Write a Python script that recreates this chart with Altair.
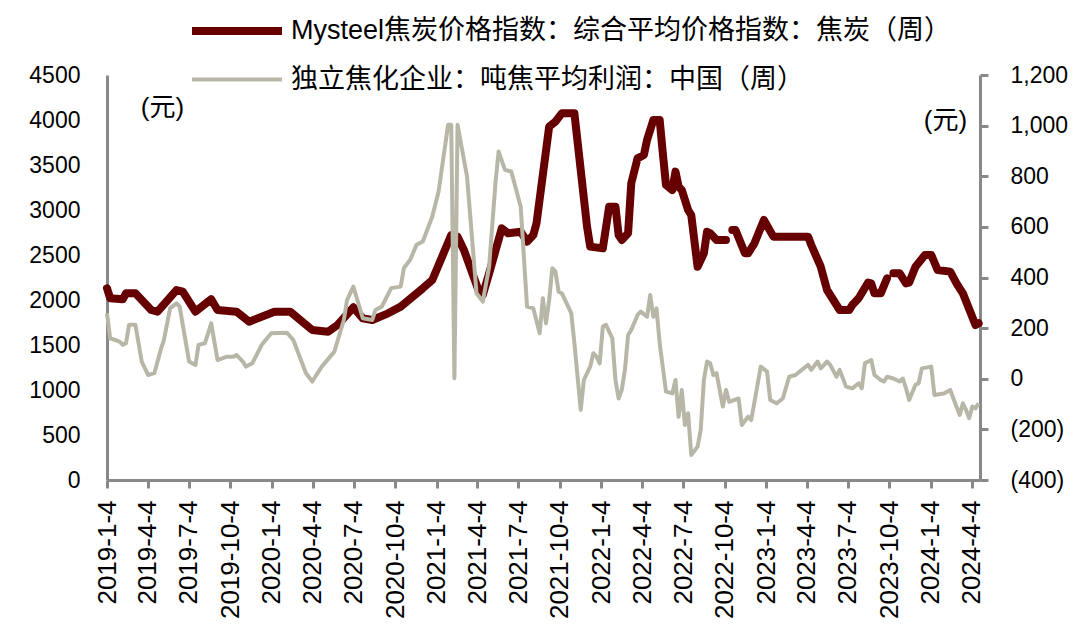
import altair as alt
import pandas as pd

START = "2019-01-04"
price_label = "Mysteel焦炭价格指数：综合平均价格指数：焦炭（周）"
profit_label = "独立焦化企业：吨焦平均利润：中国（周）"

# (week number since 2019-01-04, value)  -- None marks a missing week
price_points = [
    (0, 2130), (1, 2019), (5, 2008), (6, 2074), (9, 2074), (14, 1889), (16, 1870),
    (22, 2111), (24, 2093), (28, 1870), (30, 1926), (33, 2008), (35, 1889), (41, 1870),
    (45, 1759), (53, 1870), (58, 1870), (65, 1667), (70, 1648), (73, 1722), (78, 1919),
    (81, 1796), (84, 1778), (89, 1852), (93, 1926), (100, 2130), (103, 2222), (109, 2722),
    (111, 2704), (113, 2556), (118, 2074), (119, 2056), (121, 2296), (125, 2796), (127, 2741),
    (131, 2759), (133, 2648), (135, 2722), (136, 2852), (140, 3926), (142, 3981), (144, 4074),
    (148, 4074), (150, 3444), (152, 2815), (153, 2593), (157, 2574), (159, 3037), (161, 3037),
    (162, 2722), (163, 2667), (165, 2741), (166, 3296), (168, 3574), (170, 3611), (171, 3778),
    (173, 4000), (175, 4000), (176, 3630), (177, 3278), (179, 3222), (180, 3426), (181, 3259),
    (182, 3222), (184, 3000), (185, 2944), (187, 2370), (189, 2519), (190, 2759), (191, 2741),
    (193, 2667), (196, 2667), (197, None), (198, 2778), (199, 2778), (202, 2519), (203, 2519),
    (205, 2630), (208, 2889), (211, 2704), (222, 2704), (223, 2611), (226, 2370), (228, 2111),
    (230, 2000), (232, 1889), (235, 1889), (236, 1944), (238, 2019), (241, 2193), (242, 2185),
    (243, 2074), (245, 2074), (247, 2241), (248, None), (249, 2296), (251, 2296), (253, 2185),
    (254, 2193), (256, 2370), (259, 2500), (261, 2500), (263, 2333), (267, 2315), (269, 2185),
    (271, 2074), (275, 1722), (276, 1741),
]

profit_points = [
    (0, 259), (1, 160), (4, 147), (5, 134), (6, 140), (7, 213), (9, 213), (11, 68), (13, 15),
    (15, 22), (17, 114), (18, 153), (20, 279), (22, 298), (23, 285), (26, 68), (28, 54),
    (29, 134), (31, 140), (33, 219), (35, 74), (38, 87), (40, 87), (41, 94), (43, 68), (44, 48),
    (46, 61), (49, 134), (52, 180), (57, 182), (59, 153), (63, 22), (65, -11), (68, 48),
    (72, 107), (75, 232), (76, 311), (78, 364), (81, 239), (84, 232), (85, 272), (87, 285),
    (90, 358), (93, 364), (94, 437), (96, 470), (98, 529), (100, 542), (103, 641), (105, 740),
    (108, 1003), (109, 1003), (110, 2), (111, 1003), (114, 799), (117, 338), (119, 305),
    (121, 443), (123, 773), (124, 898), (126, 825), (128, 819), (131, 680), (133, 285),
    (135, 278), (137, 180), (138, 318), (139, 219), (140, 311), (141, 437), (142, 423),
    (143, 344), (144, 338), (147, 259), (148, 140), (150, -123), (151, -5), (153, 48), (154, 101),
    (155, 87), (156, 61), (157, 206), (158, 213), (160, 160), (161, -5), (162, -78), (163, -44),
    (164, 35), (165, 173), (166, 193), (168, 252), (169, 265), (171, 245), (172, 331), (173, 245),
    (174, 278), (175, 140), (177, -51), (179, -58), (180, -5), (181, -150), (182, -44),
    (183, -183), (184, -136), (185, -301), (187, -268), (188, -202), (189, -5), (190, 68),
    (191, 61), (192, 15), (193, 22), (195, -110), (196, -44), (197, -91), (200, -78), (201, -183),
    (203, -150), (204, -163), (207, 48), (209, 28), (210, -84), (212, -97), (214, -78), (216, 8),
    (218, 15), (220, 35), (222, 55), (223, 35), (225, 68), (226, 41), (228, 68), (229, 55),
    (231, 8), (232, 35), (234, -31), (236, -38), (238, -18), (239, -38), (240, 61), (242, 74),
    (243, 15), (245, -5), (246, -11), (247, 8), (249, 1), (251, -11), (252, 1), (253, -38),
    (254, -84), (256, -24), (257, -18), (258, 41), (261, 48), (262, -64), (265, -58), (267, -44),
    (268, -78), (270, -143), (271, -97), (272, -123), (273, -156), (274, -110), (275, -117),
    (276, -97),
]

left_ticks = [0, 500, 1000, 1500, 2000, 2500, 3000, 3500, 4000, 4500]
right_ticks = [-400, -200, 0, 200, 400, 600, 800, 1000, 1200]
x_tick_dates = [(2019, 1), (2019, 4), (2019, 7), (2019, 10), (2020, 1), (2020, 4), (2020, 7),
                (2020, 10), (2021, 1), (2021, 4), (2021, 7), (2021, 10), (2022, 1), (2022, 4),
                (2022, 7), (2022, 10), (2023, 1), (2023, 4), (2023, 7), (2023, 10), (2024, 1),
                (2024, 4)]

PRICE_COLOR = "#660000"
PROFIT_COLOR = "#B8B7A7"
AXIS_COLOR = "#888888"
LATIN = "Liberation Sans"
MIXED = "'Liberation Sans', 'Noto Sans CJK SC'"


def frame(points, label):
    df = pd.DataFrame(points, columns=["week", "value"])
    df["date"] = pd.Timestamp(START) + pd.to_timedelta(df["week"] * 7, unit="D")
    df["series"] = label
    return df[["date", "value", "series"]]


df_price = frame(price_points, price_label)
df_profit = frame(profit_points, profit_label)

x_enc = alt.X(
    "date:T",
    title=None,
    scale=alt.Scale(domain=[alt.DateTime(year=2019, month=1, date=4),
                            alt.DateTime(year=2024, month=4, date=22)]),
    axis=alt.Axis(
        values=[alt.DateTime(year=y, month=m, date=4) for y, m in x_tick_dates],
        format="%Y-%-m-%-d",
        labelAngle=270,
        labelFontSize=26,
        labelFont=LATIN,
        labelColor="black",
        labelPadding=12,
        labelOverlap=False,
        labelFlush=False,
        tickSize=8,
        tickWidth=3,
        tickColor=AXIS_COLOR,
        domainColor=AXIS_COLOR,
        domainWidth=3,
        grid=False,
    ),
)

legend = alt.Legend(
    title=None,
    orient="none",
    legendX=154,
    legendY=-58,
    direction="vertical",
    symbolType="M-8.3,0H0.7",
    symbolSize=400,
    labelFont=MIXED,
    labelFontSize=27,
    labelColor="black",
    labelLimit=1000,
    labelOffset=2,
    rowPadding=18,
)

color_enc = alt.Color(
    "series:N",
    scale=alt.Scale(domain=[price_label, profit_label], range=[PRICE_COLOR, PROFIT_COLOR]),
    legend=legend,
)
width_enc = alt.StrokeWidth(
    "series:N",
    scale=alt.Scale(domain=[price_label, profit_label], range=[8, 4]),
    legend=legend,
)

unit_title = dict(
    title="(元)",
    titleAngle=0,
    titleAlign="center",
    titleBaseline="middle",
    titleFont=MIXED,
    titleFontSize=26,
    titleFontWeight="normal",
    titleColor="black",
)

price = alt.Chart(df_price).mark_line(
    strokeCap="round", strokeJoin="round", invalid="break-paths-show-domains"
).encode(
    x=x_enc,
    y=alt.Y(
        "value:Q",
        scale=alt.Scale(domain=[0, 4500], nice=False, zero=False),
        axis=alt.Axis(
            orient="left",
            values=left_ticks,
            format="d",
            ticks=False,
            labelPadding=27,
            labelFontSize=23,
            labelFont=LATIN,
            labelColor="black",
            domainColor=AXIS_COLOR,
            domainWidth=3,
            grid=False,
            titleX=55,
            titleY=32,
            **unit_title,
        ),
    ),
    color=color_enc,
    strokeWidth=width_enc,
)

profit = alt.Chart(df_profit).mark_line(strokeJoin="round").encode(
    x=x_enc,
    y=alt.Y(
        "value:Q",
        scale=alt.Scale(domain=[-400, 1200], nice=False, zero=False),
        axis=alt.Axis(
            orient="right",
            values=right_ticks,
            labelExpr="datum.value < 0 ? '(' + format(-datum.value, ',') + ')' : format(datum.value, ',')",
            tickSize=8,
            tickWidth=3,
            tickColor=AXIS_COLOR,
            labelPadding=22,
            labelFontSize=23,
            labelFont=LATIN,
            labelColor="black",
            domainColor=AXIS_COLOR,
            domainWidth=3,
            grid=False,
            titleX=-35,
            titleY=45,
            **unit_title,
        ),
    ),
    color=color_enc,
    strokeWidth=width_enc,
)

chart = (
    alt.layer(price, profit)
    .resolve_scale(y="independent")
    .properties(
        width=873,
        height=405,
        autosize=alt.AutoSizeParams(type="none"),
        padding={"left": 99, "top": 67, "right": 90, "bottom": 150},
        background="white",
    )
    .configure_view(stroke=None)
)

chart.save("out.html", embed_options={"renderer": "svg", "actions": False})
